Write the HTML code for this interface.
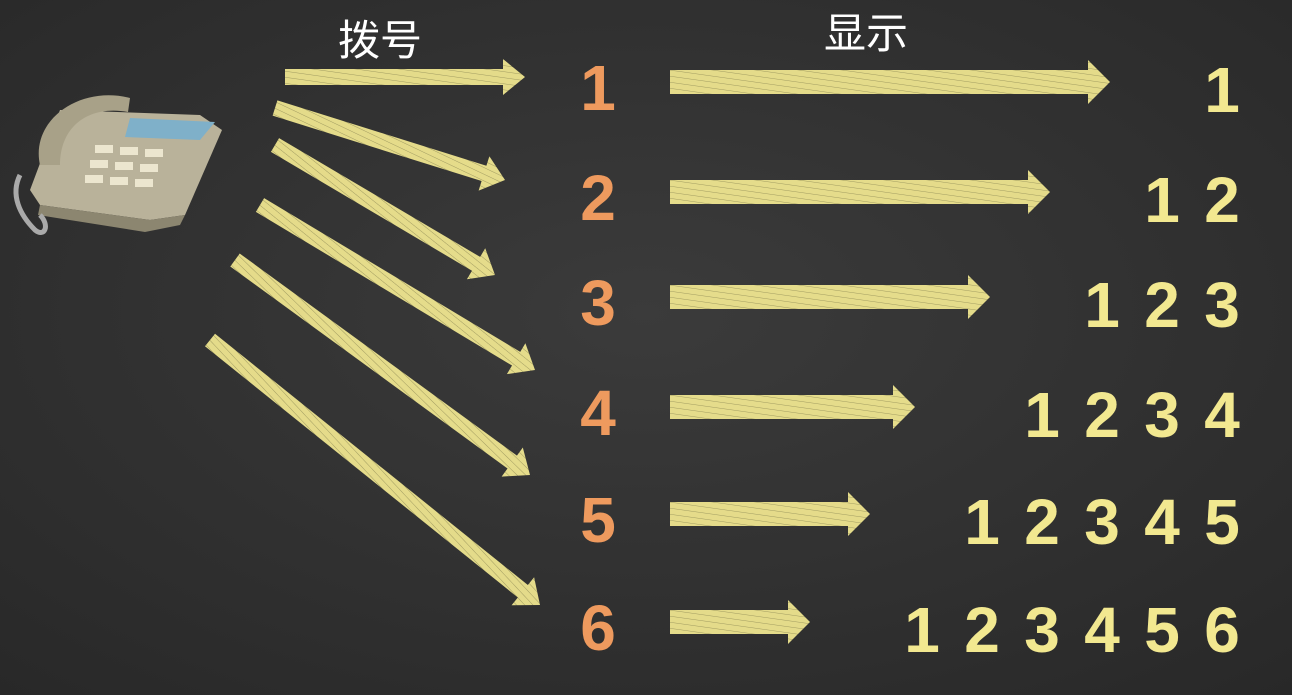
<!DOCTYPE html>
<html><head><meta charset="utf-8"><style>
html,body{margin:0;padding:0;background:#2f2f2f;}
svg{display:block}
</style></head><body>
<svg id="s" width="1292" height="695" viewBox="0 0 1292 695">
<defs>
<radialGradient id="bg" cx="50%" cy="45%" r="75%"><stop offset="0" stop-color="#3b3b3b"/><stop offset="1" stop-color="#282828"/></radialGradient>
<pattern id="hatch" width="6" height="6" patternUnits="userSpaceOnUse" patternTransform="rotate(8)"><rect width="6" height="6" fill="#f4ea92"/><line x1="0" y1="0" x2="6" y2="0" stroke="#7a7846" stroke-width="0.6"/></pattern>
</defs>
<rect width="1292" height="695" fill="url(#bg)"/>
<text x="380" y="55" font-family="Liberation Sans,'Noto Sans CJK SC',sans-serif" font-size="42" fill="#fff" text-anchor="middle">拨号</text>
<text x="866" y="48" font-family="Liberation Sans,'Noto Sans CJK SC',sans-serif" font-size="42" fill="#fff" text-anchor="middle">显示</text>
<g>
<polygon points="30,190 60,110 200,115 222,130 185,215 150,220 40,205" fill="#b9b29a"/>
<polygon points="40,205 150,220 185,215 180,225 145,232 38,215" fill="#8c8670"/>
<polygon points="130,118 215,122 200,140 125,137" fill="#7fb0c9"/>
<path d="M40,165 C30,120 80,85 130,98 L128,112 C90,105 60,125 60,165 Z" fill="#a8a188"/>
<g fill="#ece6cf"><rect x="95" y="145" width="18" height="8"/><rect x="120" y="147" width="18" height="8"/><rect x="145" y="149" width="18" height="8"/><rect x="90" y="160" width="18" height="8"/><rect x="115" y="162" width="18" height="8"/><rect x="140" y="164" width="18" height="8"/><rect x="85" y="175" width="18" height="8"/><rect x="110" y="177" width="18" height="8"/><rect x="135" y="179" width="18" height="8"/></g>
<path d="M20,175 C10,195 20,215 35,230 C45,238 50,225 40,215" stroke="#aaa" stroke-width="5" fill="none"/>
</g>
<g id="arrows"></g>
<g id="digits"></g>
</svg>
<script>
const rows=[1,2,3,4,5,6];
const rowY=[90,200,305,415,522,630];
const rightArrowEnd=[1110,1050,990,915,870,810];
const dialStart=[[285,77],[275,108],[275,145],[260,205],[235,260],[210,340]];
const dialEnd=[[525,77],[505,180],[495,275],[535,370],[530,475],[540,605]];
const NS="http://www.w3.org/2000/svg";
const A=document.getElementById('arrows'),D=document.getElementById('digits');
function arrow(x1,y1,x2,y2,w,name){
 const g=document.createElementNS(NS,'g');
 
 
 const ang=Math.atan2(y2-y1,x2-x1),L=Math.hypot(x2-x1,y2-y1);
 g.setAttribute('transform',`translate(${x1},${y1}) rotate(${ang*180/Math.PI})`);
 const h=22;
 const p=document.createElementNS(NS,'polygon');
 p.setAttribute('points',`0,${-w/2} ${L-h},${-w/2} ${L-h},${-w/2-10} ${L},0 ${L-h},${w/2+10} ${L-h},${w/2} 0,${w/2}`);
 p.setAttribute('fill','url(#hatch)');p.setAttribute('opacity','0.92');
 g.appendChild(p);A.appendChild(g);
}
rows.forEach((r,i)=>{
 arrow(dialStart[i][0],dialStart[i][1],dialEnd[i][0],dialEnd[i][1],16,'dial-arrow-'+r);
 arrow(670,rowY[i]-8,rightArrowEnd[i],rowY[i]-8,24,'display-arrow-'+r);
 const t=document.createElementNS(NS,'text');
 
 
 t.setAttribute('x',598);t.setAttribute('y',rowY[i]+20);
 t.setAttribute('font-family','Liberation Sans,sans-serif');t.setAttribute('font-weight','bold');
 t.setAttribute('font-size','64');t.setAttribute('fill','#ee9a5e');t.setAttribute('text-anchor','middle');
 t.textContent=r;D.appendChild(t);
 for(let k=1;k<=r;k++){
  const d=document.createElementNS(NS,'text');
  
  
  d.setAttribute('x',1222-(r-k)*60);d.setAttribute('y',rowY[i]+22);
  d.setAttribute('font-family','Liberation Sans,sans-serif');d.setAttribute('font-weight','bold');
  d.setAttribute('font-size','64');d.setAttribute('fill','#f2e890');d.setAttribute('text-anchor','middle');
  d.textContent=k;D.appendChild(d);
 }
});
</script>
</body></html>
